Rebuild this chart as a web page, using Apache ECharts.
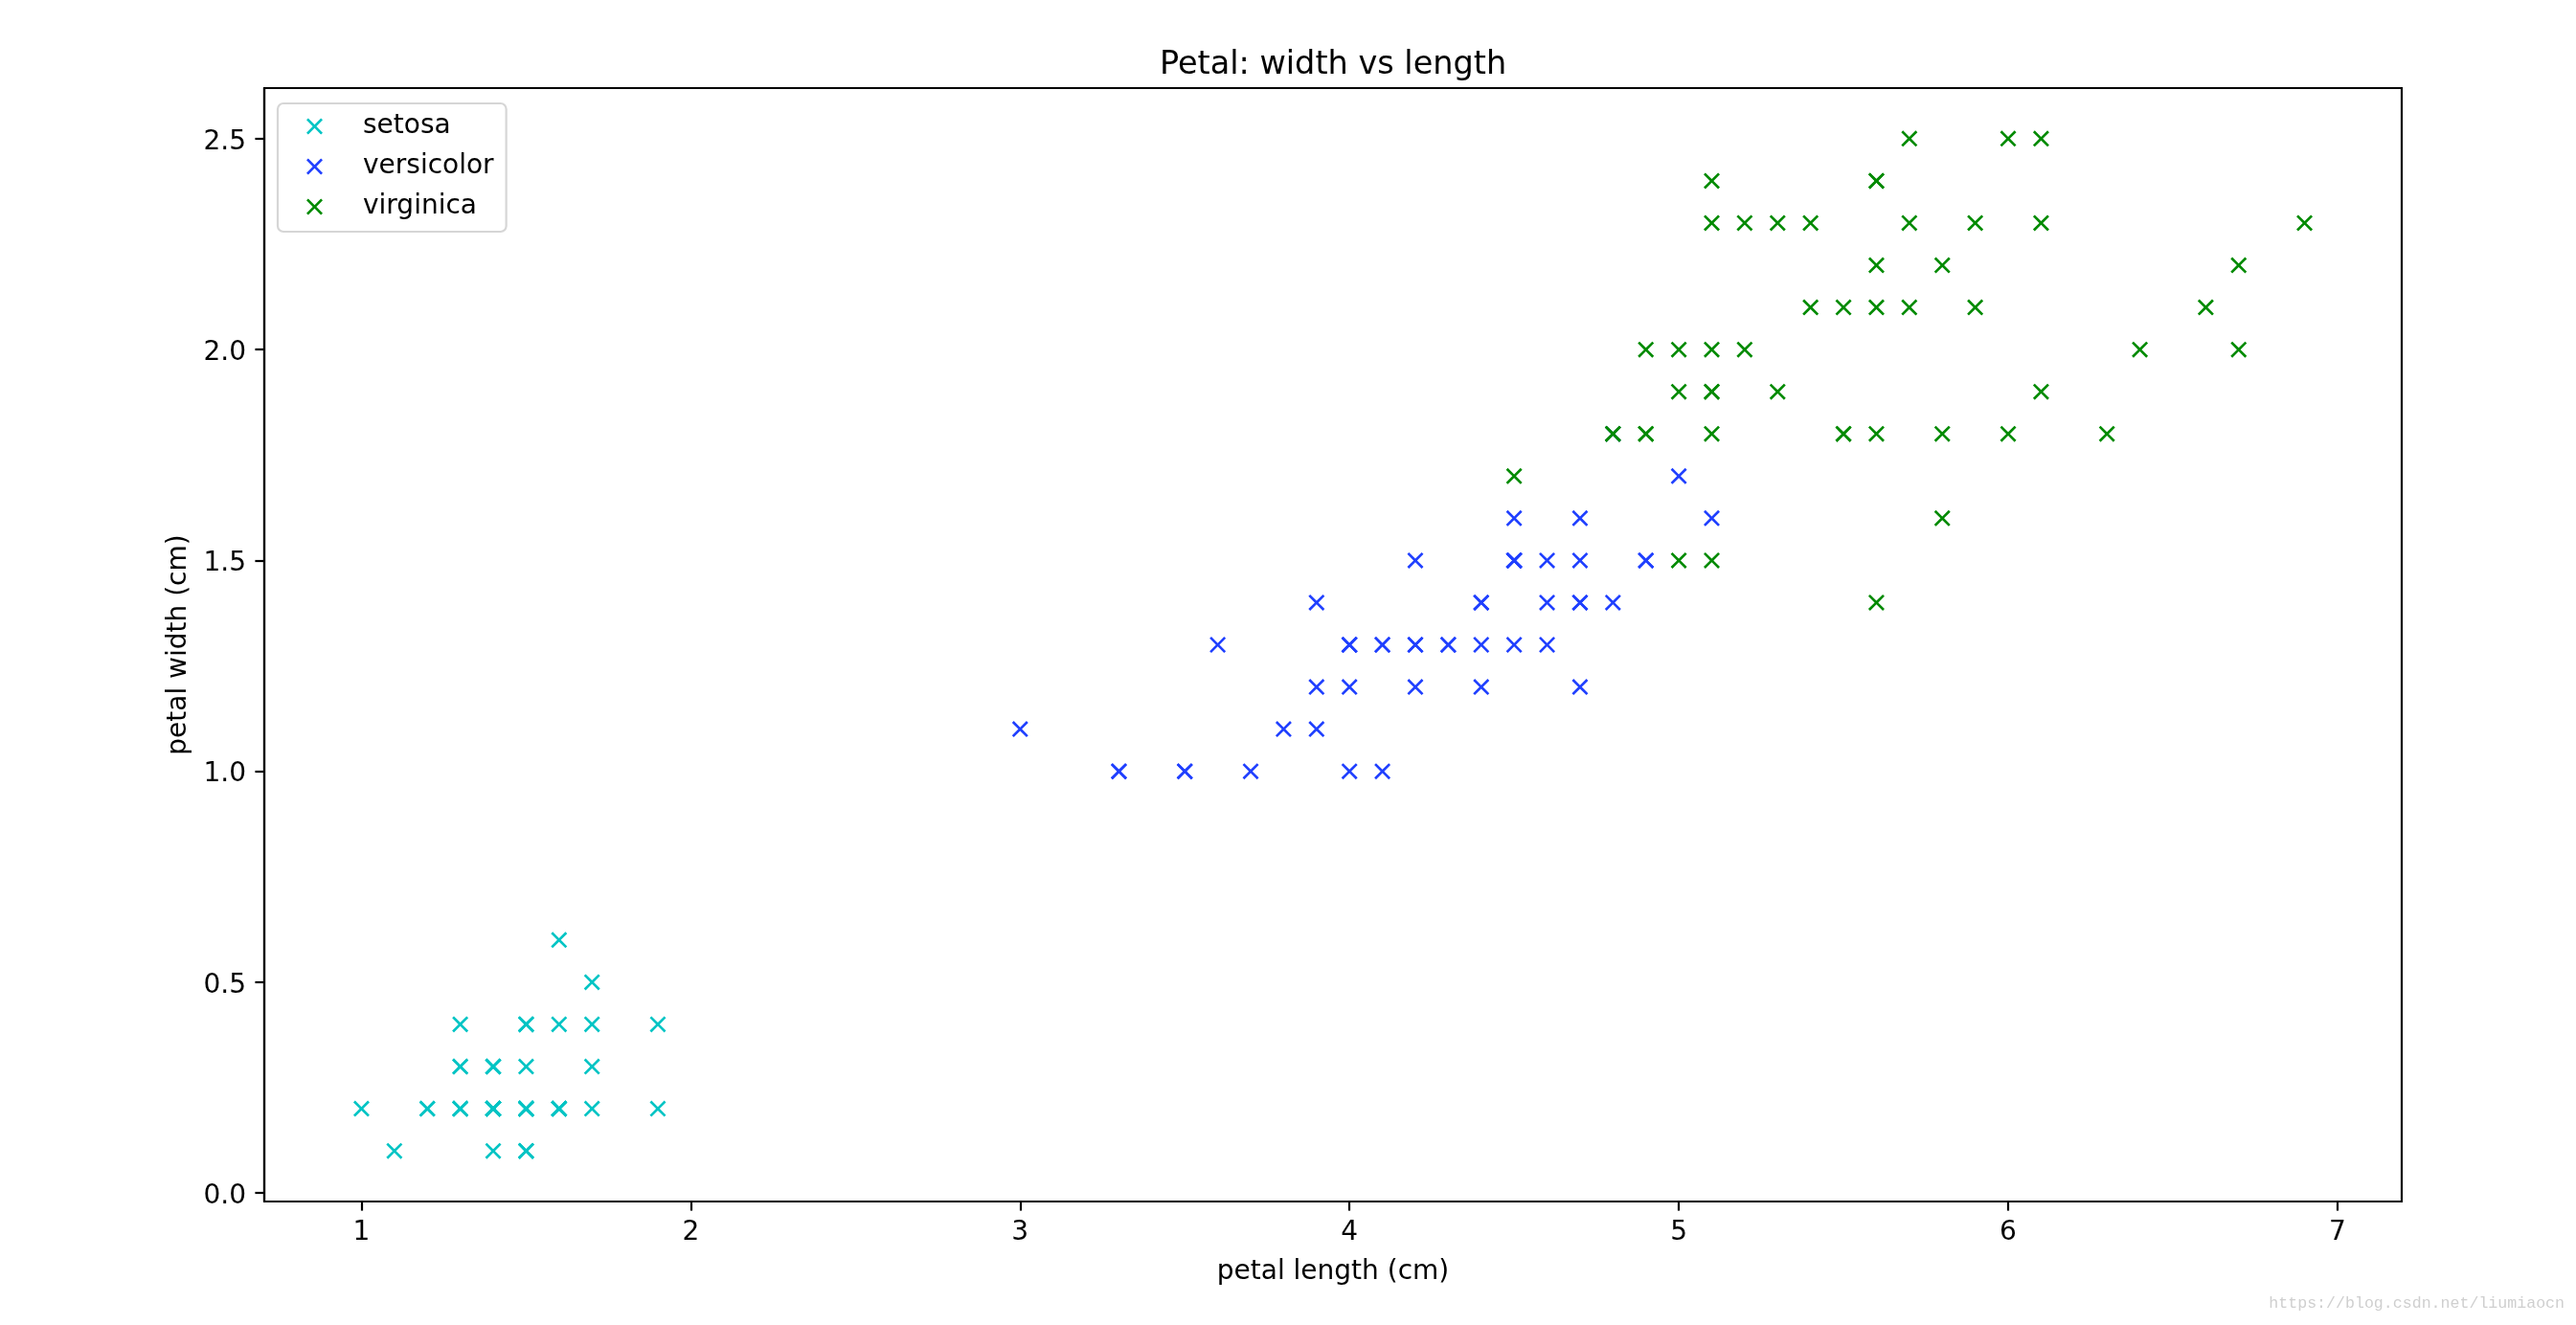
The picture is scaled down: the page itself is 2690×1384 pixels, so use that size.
<!DOCTYPE html>
<html>
<head>
<meta charset="utf-8">
<script src="https://cdn.jsdelivr.net/npm/echarts@6/dist/echarts.min.js"></script>
<style>
html,body{margin:0;padding:0;background:#fff;}
#chart{width:2690px;height:1384px;}
</style>
</head>
<body>
<div id="chart"></div>
<script>
// ---- data (iris petal measurements) ----
const seriesNames = ['setosa', 'versicolor', 'virginica'];
const seriesColors = ['#00c4c4', '#1f3fff', '#008a00'];

const setosaLength = [1.4,1.4,1.3,1.5,1.4,1.7,1.4,1.5,1.4,1.5,1.5,1.6,1.4,1.1,1.2,1.5,1.3,1.4,1.7,1.5,1.7,1.5,1.0,1.7,1.9,1.6,1.6,1.5,1.4,1.6,1.6,1.5,1.5,1.4,1.5,1.2,1.3,1.5,1.3,1.5,1.3,1.3,1.3,1.6,1.9,1.4,1.6,1.4,1.5,1.4];
const setosaWidth  = [0.2,0.2,0.2,0.2,0.2,0.4,0.3,0.2,0.2,0.1,0.2,0.2,0.1,0.1,0.2,0.4,0.4,0.3,0.3,0.3,0.2,0.4,0.2,0.5,0.2,0.2,0.4,0.2,0.2,0.2,0.2,0.4,0.1,0.2,0.2,0.2,0.2,0.1,0.2,0.2,0.3,0.3,0.2,0.6,0.4,0.3,0.2,0.2,0.2,0.2];

const versicolorLength = [4.7,4.5,4.9,4.0,4.6,4.5,4.7,3.3,4.6,3.9,3.5,4.2,4.0,4.7,3.6,4.4,4.5,4.1,4.5,3.9,4.8,4.0,4.9,4.7,4.3,4.4,4.8,5.0,4.5,3.5,3.8,3.7,3.9,5.1,4.5,4.5,4.7,4.4,4.1,4.0,4.4,4.6,4.0,3.3,4.2,4.2,4.2,4.3,3.0,4.1];
const versicolorWidth  = [1.4,1.5,1.5,1.3,1.5,1.3,1.6,1.0,1.3,1.4,1.0,1.5,1.0,1.4,1.3,1.4,1.5,1.0,1.5,1.1,1.8,1.3,1.5,1.2,1.3,1.4,1.4,1.7,1.5,1.0,1.1,1.0,1.2,1.6,1.5,1.6,1.5,1.3,1.3,1.3,1.2,1.4,1.2,1.0,1.3,1.2,1.3,1.3,1.1,1.3];

const virginicaLength = [6.0,5.1,5.9,5.6,5.8,6.6,4.5,6.3,5.8,6.1,5.1,5.3,5.5,5.0,5.1,5.3,5.5,6.7,6.9,5.0,5.7,4.9,6.7,4.9,5.7,6.0,4.8,4.9,5.6,5.8,6.1,6.4,5.6,5.1,5.6,6.1,5.6,5.5,4.8,5.4,5.6,5.1,5.1,5.9,5.7,5.2,5.0,5.2,5.4,5.1];
const virginicaWidth  = [2.5,1.9,2.1,1.8,2.2,2.1,1.7,1.8,1.8,2.5,2.0,1.9,2.1,2.0,2.4,2.3,1.8,2.2,2.3,1.5,2.3,2.0,2.0,1.8,2.1,1.8,1.8,1.8,2.1,1.6,1.9,2.0,2.2,1.5,1.4,2.3,2.4,1.8,1.8,2.1,2.4,2.3,1.9,2.3,2.5,2.3,1.9,2.0,2.3,1.8];

const xTicks = [1, 2, 3, 4, 5, 6, 7];
const yTicks = [0.0, 0.5, 1.0, 1.5, 2.0, 2.5];

const titleText = 'Petal: width vs length';
const xName = 'petal length (cm)';
const yName = 'petal width (cm)';
const watermark = 'https://blog.csdn.net/liumiaocn';

// ---- build ----
const zip = (a, b) => a.map((v, i) => [v, b[i]]);
const seriesData = [
  zip(setosaLength, setosaWidth),
  zip(versicolorLength, versicolorWidth),
  zip(virginicaLength, virginicaWidth)
];

// "x" marker as a filled polygon
const d = 11;
const X_PATH = 'path://M' + d + ',0L50,' + (50 - d) + 'L' + (100 - d) + ',0L100,' + d +
  'L' + (50 + d) + ',50L100,' + (100 - d) + 'L' + (100 - d) + ',100L50,' + (50 + d) +
  'L' + d + ',100L0,' + (100 - d) + 'L' + (50 - d) + ',50L0,' + d + 'Z';

const FONT = 'DejaVu Sans';
const chart = echarts.init(document.getElementById('chart'), null, {renderer: 'canvas'});

const option = {
  animation: false,
  backgroundColor: '#ffffff',
  textStyle: {fontFamily: FONT},
  title: {
    text: titleText,
    left: 1392,
    top: 51,
    textAlign: 'center',
    padding: 0,
    textStyle: {fontFamily: FONT, fontSize: 33.5, fontWeight: 'normal', color: '#000', lineHeight: 34}
  },
  grid: {
    left: 276, right: 182, top: 92, bottom: 129,
    show: true, borderColor: '#000', borderWidth: 2.2, backgroundColor: 'transparent'
  },
  legend: {
    orient: 'vertical',
    left: 290,
    top: 108,
    itemWidth: 17,
    itemHeight: 17,
    itemGap: 12,
    padding: [9, 13, 11, 30],
    backgroundColor: 'rgba(255,255,255,0.8)',
    borderColor: '#d6d6d6',
    borderWidth: 2.2,
    borderRadius: 6,
    selectedMode: false,
    textStyle: {fontFamily: FONT, fontSize: 28, color: '#000', lineHeight: 30, padding: [0, 0, 0, 37]},
    data: seriesNames.map(n => ({name: n, icon: X_PATH}))
  },
  xAxis: {
    type: 'value',
    min: 0.705,
    max: 7.195,
    name: xName,
    nameLocation: 'middle',
    nameGap: 59,
    nameTextStyle: {fontFamily: FONT, fontSize: 28, color: '#000', lineHeight: 30},
    splitLine: {show: false},
    axisLine: {show: true, onZero: false, lineStyle: {color: '#000', width: 2.2}},
    axisTick: {show: true, customValues: xTicks, length: 9.6, lineStyle: {color: '#000', width: 2.2}},
    axisLabel: {customValues: xTicks, margin: 19, fontFamily: FONT, fontSize: 28, color: '#000', lineHeight: 28,
      formatter: v => String(v)}
  },
  yAxis: {
    type: 'value',
    min: -0.02,
    max: 2.62,
    name: yName,
    nameLocation: 'middle',
    nameGap: 72,
    nameRotate: 90,
    nameTextStyle: {fontFamily: FONT, fontSize: 28, color: '#000', lineHeight: 30},
    splitLine: {show: false},
    axisLine: {show: true, onZero: false, lineStyle: {color: '#000', width: 2.2}},
    axisTick: {show: true, customValues: yTicks, length: 9.6, lineStyle: {color: '#000', width: 2.2}},
    axisLabel: {customValues: yTicks, margin: 19, fontFamily: FONT, fontSize: 28, color: '#000',
      verticalAlign: 'top', lineHeight: 7,
      formatter: v => Number(v).toFixed(1)}
  },
  series: seriesNames.map((n, i) => ({
    name: n,
    type: 'scatter',
    data: seriesData[i],
    symbol: X_PATH,
    symbolSize: 17,
    itemStyle: {color: seriesColors[i], opacity: 1},
    emphasis: {disabled: true}
  })),
  graphic: [{
    type: 'text',
    right: 12,
    top: 1353,
    style: {text: watermark, fontFamily: 'Liberation Mono', fontSize: 16.6, fill: '#cfcfcf'}
  }]
};
chart.setOption(option);
</script>
</body>
</html>
